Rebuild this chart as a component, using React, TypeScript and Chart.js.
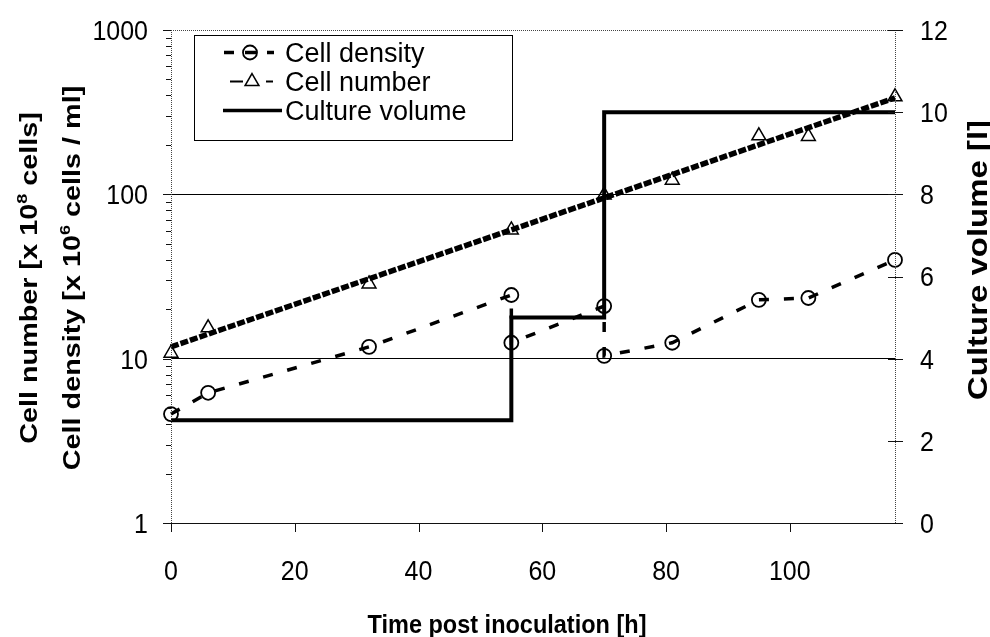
import React, { useEffect, useRef } from 'react';
import { Chart, registerables } from 'chart.js';

Chart.register(...registerables);

// ---- data ----
const densityTime = [0, 6, 32, 55, 55, 70, 70, 81, 95, 103, 117];
const densityValues = [4.6, 6.2, 11.8, 24.4, 12.5, 20.9, 10.4, 12.5, 22.8, 23.4, 39.9];

const numberTime = [0, 6, 32, 55, 70, 81, 95, 103, 117];
const numberValues = [10.8, 15.4, 28.5, 60.7, 99, 122, 227, 225, 392];

const numberTrendTime = [0, 117];
const numberTrendValues = [11.8, 386];

const volumeTime = [0, 55, 70, 117];
const volumeValues = [2.5, 5, 10, 10];

const xTicks = [0, 20, 40, 60, 80, 100];
const leftTicks = [1, 10, 100, 1000];
const rightTicks = [0, 2, 4, 6, 8, 10, 12];

const xTitle = 'Time post inoculation [h]';
const rightTitle = 'Culture volume [l]';
const leftTitle1 = [{ t: 'Cell number [x 10' }, { t: '8', sup: true }, { t: ' cells]' }];
const leftTitle2 = [{ t: 'Cell density [x 10' }, { t: '6', sup: true }, { t: ' cells / ml]' }];
const legendLabels = ['Cell density', 'Cell number', 'Culture volume'];

const FONT = '"Liberation Sans", Arial, Helvetica, sans-serif';

type Seg = { t: string; sup?: boolean };

function hText(ctx: CanvasRenderingContext2D, text: string, x: number, y: number, size: number, bold: boolean, align: CanvasTextAlign, sy: number) {
  ctx.save();
  ctx.translate(x, y);
  ctx.scale(1, sy);
  ctx.font = `${bold ? 'bold ' : ''}${size}px ${FONT}`;
  ctx.textAlign = align;
  ctx.textBaseline = 'alphabetic';
  ctx.fillStyle = '#000';
  ctx.fillText(text, 0, 0);
  ctx.restore();
}

function vSegs(ctx: CanvasRenderingContext2D, segs: Seg[], baseX: number, cy: number, size: number, sx: number) {
  ctx.save();
  ctx.translate(baseX, cy);
  ctx.rotate(-Math.PI / 2);
  ctx.scale(sx, 1);
  ctx.textAlign = 'left';
  ctx.textBaseline = 'alphabetic';
  ctx.fillStyle = '#000';
  const fNorm = `bold ${size}px ${FONT}`;
  const fSup = `bold ${Math.round(size * 0.62)}px ${FONT}`;
  let total = 0;
  for (const s of segs) {
    ctx.font = s.sup ? fSup : fNorm;
    total += ctx.measureText(s.t).width;
  }
  let x = -total / 2;
  for (const s of segs) {
    ctx.font = s.sup ? fSup : fNorm;
    ctx.fillText(s.t, x, s.sup ? -size * 0.42 : 0);
    x += ctx.measureText(s.t).width;
  }
  ctx.restore();
}

function line(ctx: CanvasRenderingContext2D, x1: number, y1: number, x2: number, y2: number) {
  ctx.beginPath();
  ctx.moveTo(x1, y1);
  ctx.lineTo(x2, y2);
  ctx.stroke();
}

const decor = {
  id: 'decor',
  afterDraw(chart: any) {
    const ctx: CanvasRenderingContext2D = chart.ctx;
    const { left, right, top, bottom } = chart.chartArea;
    const xs = chart.scales.x;
    const yl = chart.scales.y;
    const yr = chart.scales.y2;
    ctx.save();

    // frame
    ctx.strokeStyle = '#444';
    ctx.lineWidth = 1;
    ctx.setLineDash([1, 1]);
    line(ctx, left, top + 0.5, right, top + 0.5);
    line(ctx, left + 0.5, top, left + 0.5, bottom);
    line(ctx, right + 0.5, top, right + 0.5, bottom);
    ctx.setLineDash([]);
    ctx.strokeStyle = '#111';
    ctx.lineWidth = 1.2;
    line(ctx, left, bottom + 0.5, right, bottom + 0.5);

    // ticks
    ctx.lineWidth = 1;
    ctx.strokeStyle = '#111';
    for (const v of xTicks) {
      const px = Math.round(xs.getPixelForValue(v)) + 0.5;
      line(ctx, px, bottom, px, bottom + 9);
    }
    for (const v of leftTicks) {
      const py = Math.round(yl.getPixelForValue(v)) + 0.5;
      line(ctx, left - 8, py, left, py);
    }
    for (const d of [1, 10, 100]) {
      for (let m = 2; m <= 9; m++) {
        const py = Math.round(yl.getPixelForValue(d * m)) + 0.5;
        line(ctx, left - 5, py, left, py);
      }
    }
    for (const v of rightTicks) {
      const py = Math.round(yr.getPixelForValue(v)) + 0.5;
      line(ctx, right - 7, py, right + 8, py);
    }

    // tick labels
    const tSize = 25;
    const tSy = 1.1;
    const half = 0.358 * tSize * tSy;
    for (const v of xTicks) {
      hText(ctx, String(v), xs.getPixelForValue(v), 580, tSize, false, 'center', tSy);
    }
    for (const v of leftTicks) {
      hText(ctx, String(v), 148, yl.getPixelForValue(v) + half, tSize, false, 'right', tSy);
    }
    for (const v of rightTicks) {
      hText(ctx, String(v), 920, yr.getPixelForValue(v) + half, tSize, false, 'left', tSy);
    }

    // axis titles
    hText(ctx, xTitle, 507, 633, 23.5, true, 'center', 1.12);
    vSegs(ctx, leftTitle1, 37, 278, 24, 1.2);
    vSegs(ctx, leftTitle2, 80, 278, 24, 1.2);
    vSegs(ctx, [{ t: rightTitle }], 987, 260, 27, 1.22);

    // legend
    ctx.fillStyle = '#fff';
    ctx.fillRect(194, 35, 318, 105);
    ctx.strokeStyle = '#000';
    ctx.lineWidth = 1;
    ctx.strokeRect(194.5, 35.5, 318, 105);

    const rowBase = [62, 91, 120];
    const rowMid = rowBase.map((b) => b - 9.5);
    // row 1: cell density
    ctx.lineWidth = 3.5;
    line(ctx, 224, rowMid[0], 234, rowMid[0]);
    line(ctx, 245, rowMid[0], 256, rowMid[0]);
    line(ctx, 267, rowMid[0], 274, rowMid[0]);
    ctx.lineWidth = 1.8;
    ctx.beginPath();
    ctx.arc(250, rowMid[0], 7, 0, Math.PI * 2);
    ctx.stroke();
    // row 2: cell number
    ctx.lineWidth = 2;
    line(ctx, 230, rowMid[1], 243, rowMid[1]);
    line(ctx, 266, rowMid[1], 273, rowMid[1]);
    ctx.lineWidth = 1.5;
    ctx.beginPath();
    const r = 8;
    for (let i = 0; i < 3; i++) {
      const a = (i * 2 * Math.PI) / 3;
      const px = 252 + Math.sin(a) * r;
      const py = rowMid[1] - Math.cos(a) * r;
      if (i === 0) ctx.moveTo(px, py);
      else ctx.lineTo(px, py);
    }
    ctx.closePath();
    ctx.stroke();
    // row 3: culture volume
    ctx.lineWidth = 3.5;
    line(ctx, 223, rowMid[2], 282, rowMid[2]);

    legendLabels.forEach((lab, i) => {
      hText(ctx, lab, 285, rowBase[i], 27, false, 'left', 1);
    });

    ctx.restore();
  },
};

export default function App() {
  const ref = useRef<HTMLCanvasElement | null>(null);

  useEffect(() => {
    if (!ref.current) return;
    const chart = new Chart(ref.current, {
      type: 'line',
      data: {
        datasets: [
          {
            label: 'Culture volume',
            data: volumeTime.map((x, i) => ({ x, y: volumeValues[i] })),
            yAxisID: 'y2',
            borderColor: '#000',
            borderWidth: 4,
            stepped: 'before',
            pointRadius: 0,
            fill: false,
            clip: false,
          },
          {
            label: 'Cell number trend',
            data: numberTrendTime.map((x, i) => ({ x, y: numberTrendValues[i] })),
            yAxisID: 'y',
            borderColor: '#000',
            borderWidth: 5.5,
            borderDash: [8, 2],
            pointRadius: 0,
            fill: false,
            clip: false,
          },
          {
            label: 'Cell number',
            data: numberTime.map((x, i) => ({ x, y: numberValues[i] })),
            yAxisID: 'y',
            showLine: false,
            pointStyle: 'triangle',
            pointRadius: 8,
            pointBorderWidth: 1.5,
            pointBorderColor: '#000',
            pointBackgroundColor: 'rgba(0,0,0,0)',
            clip: false,
          },
          {
            label: 'Cell density',
            data: densityTime.map((x, i) => ({ x, y: densityValues[i] })),
            yAxisID: 'y',
            borderColor: '#000',
            borderWidth: 3.5,
            borderDash: [10, 15],
            pointStyle: 'circle',
            pointRadius: 7,
            pointBorderWidth: 1.8,
            pointBorderColor: '#000',
            pointBackgroundColor: 'rgba(0,0,0,0)',
            fill: false,
            clip: false,
          },
        ],
      } as any,
      options: {
        responsive: false,
        animation: false,
        layout: { padding: { top: 30, left: 0, right: 0, bottom: 0 } },
        plugins: { legend: { display: false }, tooltip: { enabled: false } },
        scales: {
          x: {
            type: 'linear',
            min: 0,
            max: 117,
            position: 'bottom',
            grid: { display: false },
            border: { display: false },
            ticks: { display: false },
            afterFit: (s: any) => {
              s.height = 114;
            },
          },
          y: {
            type: 'logarithmic',
            min: 1,
            max: 1000,
            position: 'left',
            afterBuildTicks: (s: any) => {
              s.ticks = leftTicks.map((v) => ({ value: v }));
            },
            grid: {
              color: (c: any) =>
                c.tick && (c.tick.value === 10 || c.tick.value === 100) ? '#000' : 'rgba(0,0,0,0)',
              lineWidth: 1,
              drawTicks: false,
            },
            border: { display: false },
            ticks: { display: false },
            afterFit: (s: any) => {
              s.width = 171;
            },
          },
          y2: {
            type: 'linear',
            min: 0,
            max: 12,
            position: 'right',
            grid: { display: false },
            border: { display: false },
            ticks: { display: false },
            afterFit: (s: any) => {
              s.width = 95;
            },
          },
        },
      } as any,
      plugins: [decor],
    });
    return () => chart.destroy();
  }, []);

  return (
    <div style={{ position: 'absolute', left: 0, top: 0, width: 990, height: 637, background: '#fff' }}>
      <canvas ref={ref} width={990} height={637} style={{ display: 'block' }} />
    </div>
  );
}
